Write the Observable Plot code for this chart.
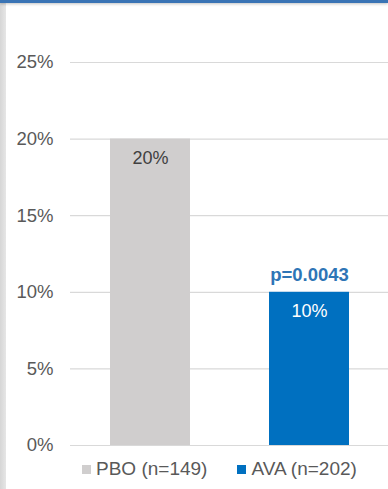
<!DOCTYPE html>
<html>
<head>
<meta charset="utf-8">
<script src="https://cdn.jsdelivr.net/npm/d3@7"></script>
<script src="https://cdn.jsdelivr.net/npm/@observablehq/plot@0.6"></script>
<style>
  html, body { margin: 0; padding: 0; background: #fff; }
  #frame {
    position: relative; width: 388px; height: 489px; overflow: hidden;
    font-family: "Liberation Sans", Arial, sans-serif; background: #fff;
  }
  #topbar {
    position: absolute; left: 0; top: 0; width: 388px; height: 3px;
    background: #3a74b5; box-shadow: 0 1px 3px rgba(0,0,0,0.25); z-index: 2;
  }
  #sidebar {
    position: absolute; left: 0; top: 0; width: 6px; height: 489px;
    background: linear-gradient(to right, #d6d6d6, #e6e6e6); z-index: 1;
  }
  #chart { position: absolute; left: 0; top: 0; }
  #legend {
    position: absolute; left: 82px; top: 458px; display: flex; gap: 30px;
    font-size: 19px; color: #595959; line-height: 22px;
  }
  .item { display: flex; align-items: center; }
  .swatch { width: 9px; height: 9px; margin-right: 5px; }
</style>
</head>
<body>
<div id="frame">
  <div id="chart"></div>
  <div id="sidebar"></div>
  <div id="topbar"></div>
  <div id="legend"></div>
</div>
<script>
// Share of patients per treatment arm
const groups = ["PBO (n=149)", "AVA (n=202)"];
const values = [20, 10];
const barColors = ["#d0cece", "#0070c0"];
const labelColors = ["#404040", "#ffffff"];
const yTicks = [0, 5, 10, 15, 20, 25];
const pValueGroup = "AVA (n=202)";
const pValueText = "p=0.0043";

const rows = groups.map((g, i) => ({group: g, value: values[i], fill: barColors[i], labelFill: labelColors[i]}));
const pRow = rows.filter(d => d.group === pValueGroup);

const fontFamily = '"Liberation Sans", Arial, sans-serif';

const chart = Plot.plot({
  width: 388,
  height: 455,
  marginTop: 62,
  marginBottom: 10,
  marginLeft: 70,
  marginRight: 0,
  style: {fontFamily, background: "transparent"},
  x: {domain: groups, paddingInner: 0.5, paddingOuter: 0.25, axis: null},
  y: {domain: [0, 25], axis: null},
  marks: [
    Plot.ruleY(yTicks, {stroke: "#d9d9d9", strokeWidth: 1.2}),
    Plot.axisY({
      ticks: yTicks, tickSize: 0, tickPadding: 17, label: null,
      tickFormat: d => d + "%", fontSize: 18.5, fill: "#595959"
    }),
    Plot.barY(rows, {x: "group", y: "value", fill: "fill"}),
    Plot.text(rows, {
      x: "group", y: "value", text: d => d.value + "%",
      fill: "labelFill", fontSize: 18, dy: 19
    }),
    Plot.text(pRow, {
      x: "group", y: "value", text: () => pValueText,
      fill: "#2e75b6", fontSize: 18.5, fontWeight: "bold", dy: -17
    })
  ]
});
document.getElementById("chart").appendChild(chart);

// Legend row beneath the chart
const legend = document.getElementById("legend");
rows.forEach(d => {
  const item = document.createElement("div");
  item.className = "item";
  const sw = document.createElement("span");
  sw.className = "swatch";
  sw.style.background = d.fill;
  const label = document.createElement("span");
  label.textContent = d.group;
  item.appendChild(sw);
  item.appendChild(label);
  legend.appendChild(item);
});
</script>
</body>
</html>
